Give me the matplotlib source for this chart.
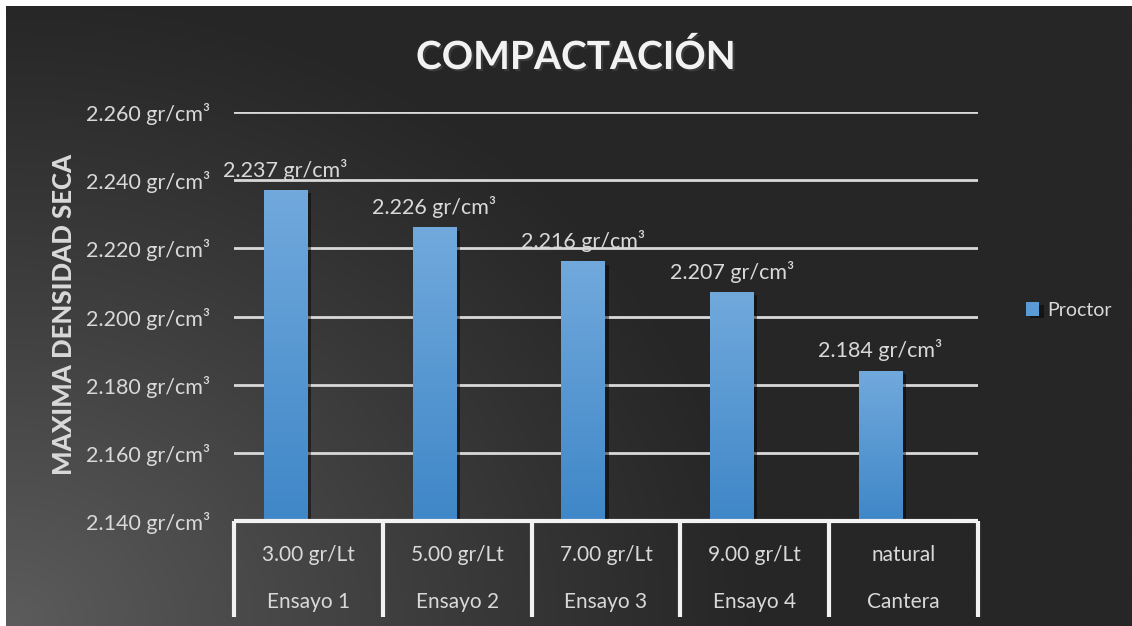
import numpy as np
import matplotlib.pyplot as plt
from matplotlib import patheffects as pe

# datos del ensayo Proctor
ensayos = ['Ensayo 1', 'Ensayo 2', 'Ensayo 3', 'Ensayo 4', 'Cantera']
dosis = ['3.00 gr/Lt', '5.00 gr/Lt', '7.00 gr/Lt', '9.00 gr/Lt', 'natural']
densidad = [2.237, 2.226, 2.216, 2.207, 2.184]
yticks = [2.140, 2.160, 2.180, 2.200, 2.220, 2.240, 2.260]

TXT = '#d9d9d9'
plt.rcParams['font.family'] = ['Lato', 'DejaVu Sans']

W, H = 1132, 626
fig = plt.figure(figsize=(W / 100, H / 100), dpi=100, facecolor='white')

# fondo oscuro con degradado radial desde la esquina inferior izquierda
bg = fig.add_axes([6 / W, 0, 1 - 6 / W, 1 - 6 / H])
gx, gy = np.meshgrid(np.linspace(0, 1126, 400), np.linspace(0, 620, 250))
d = np.sqrt((gx / 760) ** 2 + (gy / 640) ** 2)
t = np.clip(1 - d, 0, 1) ** 1.1
g = (0x26 + (0x5c - 0x26) * t) / 255
bg.imshow(np.dstack([g, g, g]), origin='lower', aspect='auto', extent=(0, 1, 0, 1))
bg.set_axis_off()

left, right, top, bottom = 234, 978, 112, 521
ax = fig.add_axes([left / W, 1 - bottom / H, (right - left) / W, (bottom - top) / H])
ax.set_facecolor('none')

x = np.arange(len(ensayos))
bars = ax.bar(x - 0.155, densidad, width=0.29, color='#5b9bd5', zorder=3,
              label='Proctor')
for b in bars:
    b.set_path_effects([pe.SimplePatchShadow(offset=(3, -2), alpha=0.45,
                                             shadow_rgbFace='black'), pe.Normal()])
    x0, y0 = b.get_x(), 2.14
    x1, y1 = x0 + b.get_width(), b.get_height()
    grad = np.linspace(0, 1, 100)[:, None]
    c0 = np.array([0x3f, 0x87, 0xc8]) / 255
    c1 = np.array([0x71, 0xa9, 0xdc]) / 255
    img = c0 + (c1 - c0) * grad[..., None]
    ax.imshow(np.repeat(img, 2, axis=1), origin='lower', aspect='auto',
              extent=(x0, x1, y0, y1), zorder=4)

for xi, v in zip(x - 0.155, densidad):
    ax.annotate(f'{v:.3f} gr/cm³', (xi, v), xytext=(0, 7), textcoords='offset points',
                ha='center', va='bottom', color=TXT, fontsize=15.5, zorder=5)

ax.set_xlim(-0.5, len(ensayos) - 0.5)
ax.set_ylim(2.14, 2.26)
ax.set_yticks(yticks)
ax.set_yticklabels([f'{v:.3f} gr/cm³' for v in yticks])
ax.tick_params(axis='y', length=0, pad=17, labelsize=15.5, labelcolor=TXT)
ax.set_xticks([])
for s in ax.spines.values():
    s.set_visible(False)
ax.grid(axis='y', color='#d9d9d9', linewidth=2, zorder=1)

# tabla de categorias bajo el eje
tr = ax.get_xaxis_transform()
ax.plot([-0.5, len(ensayos) - 0.5], [0, 0], color='#f2f2f2', lw=3, transform=tr,
        clip_on=False, zorder=6, solid_capstyle='butt')
for k in range(len(ensayos) + 1):
    ax.plot([k - 0.5, k - 0.5], [0, -0.235], color='#f2f2f2', lw=3, transform=tr,
            clip_on=False, zorder=6, solid_capstyle='butt')
for xi, d1, e in zip(x, dosis, ensayos):
    ax.text(xi, -0.083, d1, transform=tr, ha='center', va='center', color=TXT, fontsize=15)
    ax.text(xi, -0.198, e, transform=tr, ha='center', va='center', color=TXT, fontsize=15)

ylab = ax.set_ylabel('MAXIMA DENSIDAD SECA', color=TXT, fontsize=18.5)
ylab.set_fontweight('black')
ax.yaxis.set_label_coords(-0.212, 0.504)

fig.text(576 / W, 1 - 57 / H, 'COMPACTACIÓN', ha='center', va='center', color='#f2f2f2',
         fontsize=28, fontweight='bold',
         path_effects=[pe.withSimplePatchShadow(offset=(1.5, -1.5), alpha=0.6)])

leg = ax.legend(loc='center left', bbox_to_anchor=(1016 / W, 1 - 310 / H),
                bbox_transform=fig.transFigure, frameon=False, borderpad=0,
                handlelength=0.7, handleheight=0.7, handletextpad=0.4, fontsize=14)
for t_ in leg.get_texts():
    t_.set_color(TXT)

fig.savefig('out.png', dpi=100, facecolor=fig.get_facecolor())
